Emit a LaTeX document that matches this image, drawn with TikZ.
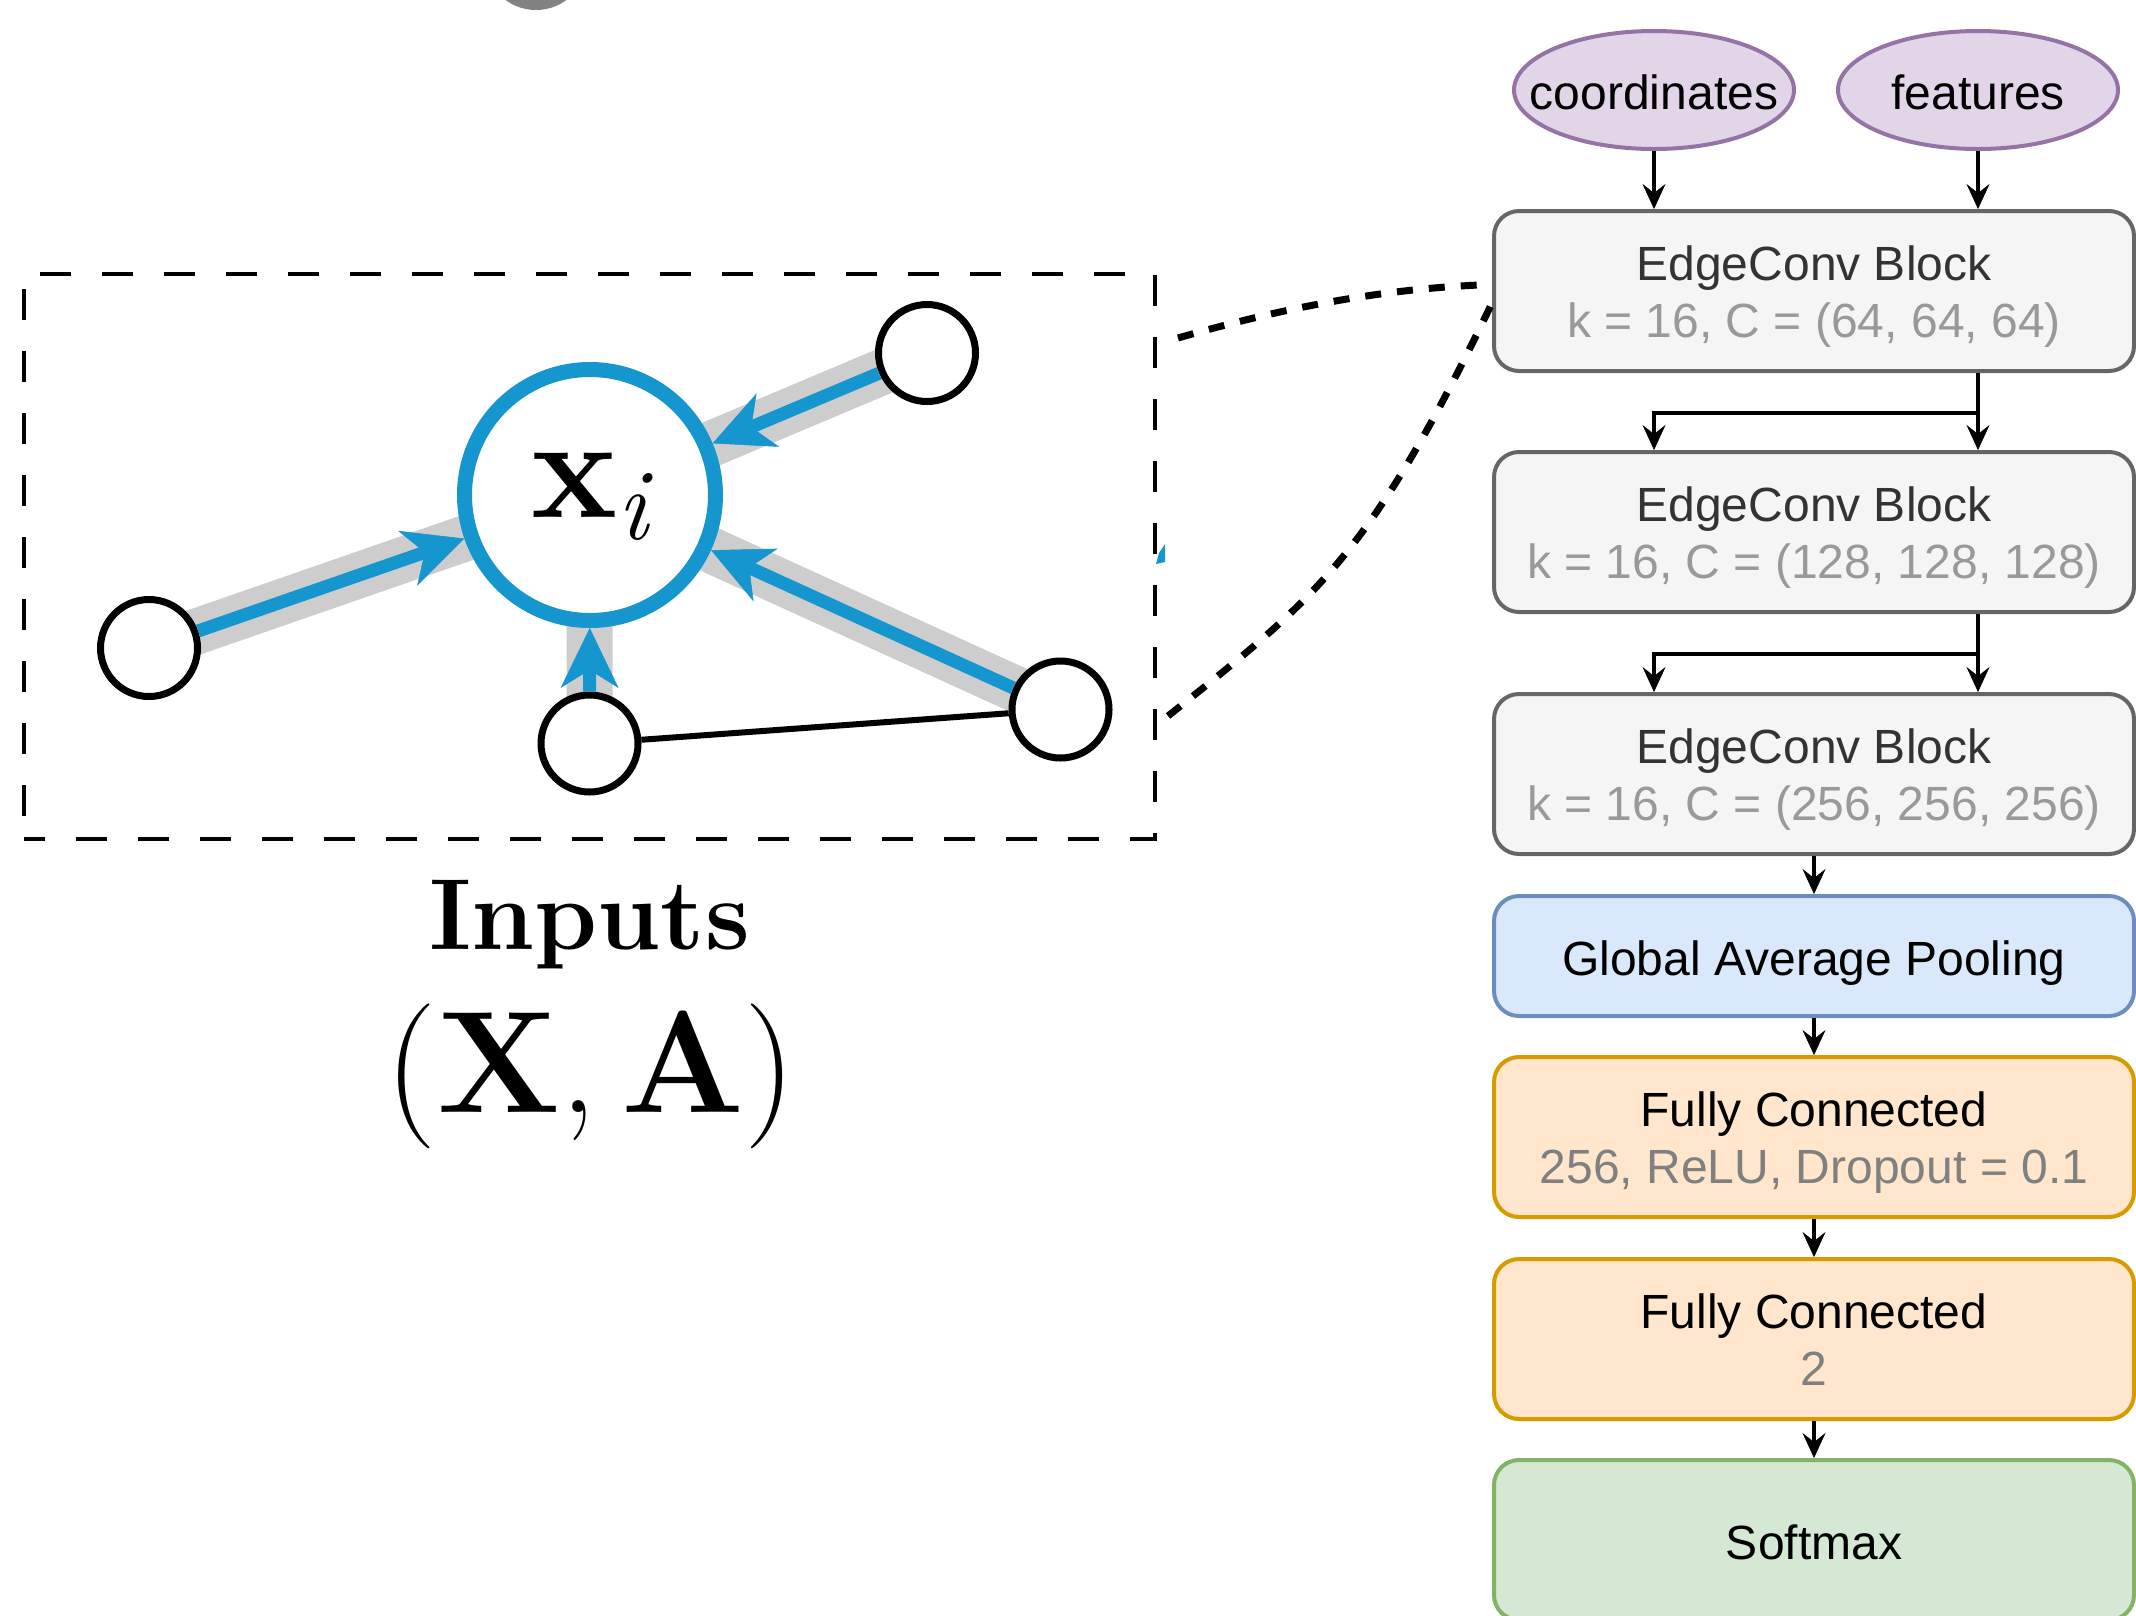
\documentclass[tikz,border=0pt]{standalone}
\usepackage{fontspec}
\setsansfont{Liberation Sans}
\usetikzlibrary{arrows.meta,shapes.geometric}

\pgfdeclarelayer{halos}
\pgfsetlayers{halos,main}

\definecolor{edgeblue}{RGB}{22,150,206}
\definecolor{halogray}{RGB}{205,205,205}
\definecolor{knob}{RGB}{128,130,132}
\definecolor{blockfill}{HTML}{F5F5F5}
\definecolor{blockline}{HTML}{666666}
\definecolor{blocktext}{HTML}{333333}
\definecolor{paramtext}{HTML}{999999}
\definecolor{denseparam}{HTML}{808080}
\definecolor{poolfill}{HTML}{DAE8FC}
\definecolor{poolline}{HTML}{6C8EBF}
\definecolor{densefill}{HTML}{FFE6CC}
\definecolor{denseline}{HTML}{D79B00}
\definecolor{softfill}{HTML}{D5E8D4}
\definecolor{softline}{HTML}{82B366}
\definecolor{inputfill}{HTML}{E1D5E7}
\definecolor{inputline}{HTML}{9673A6}

\tikzset{
  block/.style={draw=blockline, fill=blockfill, line width=4pt, rounded corners=25pt,
    minimum width=640pt, minimum height=160pt, inner sep=0pt},
  poolblock/.style={block, draw=poolline, fill=poolfill, minimum height=120pt},
  denseblock/.style={block, draw=denseline, fill=densefill},
  softblock/.style={block, draw=softline, fill=softfill},
  inputnode/.style={ellipse, draw=inputline, fill=inputfill, line width=4pt,
    minimum width=280pt, minimum height=118pt, inner sep=0pt},
  lbl/.style={anchor=base, inner sep=0pt, font=\fontsize{48}{57.6}\sffamily},
  flowarrow/.style={line width=4pt,
    -{Stealth[length=25pt,width=23pt,inset=9pt,line width=0.5pt]}},
  inputframe/.style={draw, line width=4pt, dash pattern=on 31pt off 31pt,
    dash phase=10pt, inner sep=0pt},
  tapline/.style={line width=7pt, dash pattern=on 16pt off 16pt},
  centernode/.style={circle, draw=edgeblue, fill=white, line width=15pt,
    minimum size=251pt, inner sep=0pt},
  nbr/.style={circle, draw=black, fill=white, line width=7pt,
    minimum size=97pt, inner sep=0pt},
  haloline/.style={line width=46pt, halogray},
  edgearrow/.style={line width=13pt, edgeblue,
    -{Stealth[length=60pt,width=58pt,inset=18pt,line width=0.5pt]}},
  plainedge/.style={line width=6pt, black},
}

\begin{document}
\begin{tikzpicture}[x=1pt,y=-1pt]
\useasboundingbox (0,0) rectangle (2136,1615);
\clip (0,0) rectangle (2136,1615);

% grey knob cut by the top edge
\fill[knob] (536,-41.5) circle[radius=51.5pt];

% ---------- graph neighbourhood ----------
\node[inputframe, minimum width=1131pt, minimum height=565pt] (frame) at (589.5,556.5) {};

\node[centernode] (ctr) at (590,495) {};
\node[anchor=base, inner sep=0pt, font=\fontsize{145}{174}\selectfont] (xi) at (590,517)
  {\textbf{x}\raisebox{-22pt}{\fontsize{101.5}{120}\selectfont\itshape i}};
\node[nbr] (nl) at (149,648) {};
\node[nbr] (nt) at (927,353) {};
\node[nbr] (nb) at (589.5,743.5) {};
\node[nbr] (nr) at (1060.5,709.5) {};

\begin{pgfonlayer}{halos}
  \foreach \n in {nl,nt,nb,nr}
    \draw[haloline] (\n.center) -- (ctr.center);
\end{pgfonlayer}

\draw[edgearrow] (nl) -- (ctr);
\draw[edgearrow] (nt) -- (ctr);
\draw[edgearrow] (nb) -- (ctr);
\draw[edgearrow] (nr) -- (ctr);
\draw[plainedge] (nb) -- (nr);

% small blue sliver at the frame edge
\fill[edgeblue] (1156,564) -- (1159,553) -- (1165,544) -- (1165,562) -- cycle;

\node[anchor=base, inner sep=0pt, font=\fontsize{101}{121}\selectfont\bfseries] (capA) at (589.5,949) {Inputs};
\node[anchor=base, inner sep=0pt, font=\fontsize{145}{174}\selectfont] (capB) at (591,1112)
  {(\textbf{X},\kern0.17em\textbf{A})};

% ---------- network ----------
\node[inputnode] (coords) at (1654,90) {};
\node[lbl] (coordsT) at ([yshift=-19.4pt]coords.center) {coordinates};
\node[inputnode] (feats) at (1978,90) {};
\node[lbl] (featsT) at ([yshift=-19.4pt]feats.center) {features};

\node[block] (b1) at (1814,291) {};
\node[lbl, text=blocktext] (b1a) at ([yshift=10.5pt]b1.center) {EdgeConv Block};
\node[lbl, text=paramtext] (b1b) at ([yshift=-46.5pt]b1.center) {k = 16, C = (64, 64, 64)};

\node[block] (b2) at (1814,532) {};
\node[lbl, text=blocktext] (b2a) at ([yshift=10.5pt]b2.center) {EdgeConv Block};
\node[lbl, text=paramtext] (b2b) at ([yshift=-46.5pt]b2.center) {k = 16, C = (128, 128, 128)};

\node[block] (b3) at (1814,774) {};
\node[lbl, text=blocktext] (b3a) at ([yshift=10.5pt]b3.center) {EdgeConv Block};
\node[lbl, text=paramtext] (b3b) at ([yshift=-46.5pt]b3.center) {k = 16, C = (256, 256, 256)};

\node[poolblock] (pool) at (1814,956) {};
\node[lbl] (poolT) at ([yshift=-19.4pt]pool.center) {Global Average Pooling};

\node[denseblock] (fc1) at (1814,1137) {};
\node[lbl] (fc1a) at ([yshift=10.5pt]fc1.center) {Fully Connected};
\node[lbl, text=denseparam] (fc1b) at ([yshift=-46.5pt]fc1.center) {256, ReLU, Dropout = 0.1};

\node[denseblock] (fc2) at (1814,1339) {};
\node[lbl] (fc2a) at ([yshift=10.5pt]fc2.center) {Fully Connected};
\node[lbl, text=denseparam] (fc2b) at ([yshift=-46.5pt]fc2.center) {2};

\node[softblock] (soft) at (1814,1540) {};
\node[lbl] (softT) at ([yshift=-19.4pt]soft.center) {Softmax};

% lanes and split points
\coordinate (laneL) at (1654,0);
\coordinate (laneR) at (1978,0);
\coordinate (split1) at (1654,413);
\coordinate (split2) at (1654,654);

\draw[flowarrow] (coords) -- (b1.north -| coords);
\draw[flowarrow] (feats) -- (b1.north -| feats);

\draw[flowarrow] (b1.south -| laneR) -- (b2.north -| laneR);
\draw[flowarrow] (b1.south -| laneR) |- (split1) -- (b2.north -| laneL);
\draw[flowarrow] (b2.south -| laneR) -- (b3.north -| laneR);
\draw[flowarrow] (b2.south -| laneR) |- (split2) -- (b3.north -| laneL);

\draw[flowarrow] (b3) -- (pool);
\draw[flowarrow] (pool) -- (fc1);
\draw[flowarrow] (fc1) -- (fc2);
\draw[flowarrow] (fc2) -- (soft);

% dotted taps from the frame to the first block
\coordinate (tapA) at (1178,338);
\coordinate (tapB) at (1168,716);
\draw[tapline] (tapA) .. controls (1286,307) and (1386,288) .. ([yshift=6.5pt]b1.west);
\draw[tapline] (tapB) .. controls (1317,597) and (1370,557) .. ([yshift=-12pt]b1.west);

\end{tikzpicture}
\end{document}
